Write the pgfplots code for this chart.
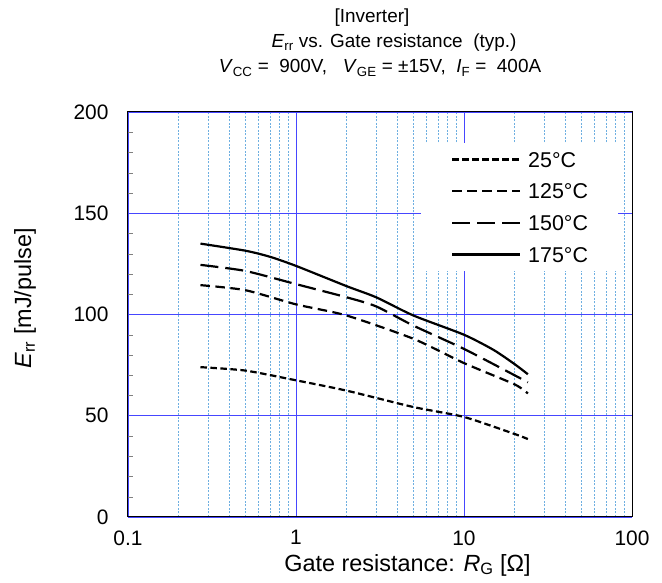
\documentclass[border=0pt]{standalone}
\usepackage{pgfplots}
\pgfplotsset{compat=1.18}
\usepackage{fontspec}
\setmainfont{Liberation Sans}
\definecolor{majgrid}{RGB}{70,70,255}
\definecolor{mingrid}{RGB}{110,175,225}
\begin{document}
\fontsize{19}{23}\selectfont
\begin{tikzpicture}
\begin{axis}[
  at={(0bp,0bp)}, anchor=south west,
  scale only axis, width=504bp, height=405bp,
  xmode=log, log basis x=10,
  xmin=0.1, xmax=100, ymin=0, ymax=200,
  xtick={0.1,1,10,100}, xticklabels={0.1,1,10,100},
  minor xtick={0.2,0.3,0.4,0.5,0.6,0.7,0.8,0.9,2,3,4,5,6,7,8,9,20,30,40,50,60,70,80,90},
  ytick={0,50,100,150,200},
  minor ytick={10,20,30,40,60,70,80,90,110,120,130,140,160,170,180,190},
  ytick pos=left, xtick pos=bottom,
  tick align=inside,
  major tick length=0bp, minor tick length=5bp,
  minor x tick style={draw=none},
  xmajorgrids, ymajorgrids, xminorgrids,
  major grid style={majgrid, line width=0.8bp},
  minor grid style={mingrid, line width=0.8bp, dash pattern=on 2bp off 1.5bp},
  axis line style={black, line width=1bp},
  /pgf/number format/assume math mode=true,
  tick label style={font=\fontsize{21}{25}\selectfont},
  yticklabel style={xshift=-13bp},
  xticklabel style={yshift=-7bp},
  xlabel={Gate resistance: \textit{R}\textsubscript{G} [Ω]},
  ylabel={\textit{E}\textsubscript{rr} [mJ/pulse]},
  label style={font=\fontsize{23.5}{27}\selectfont},
  xlabel style={at={(axis description cs:0.5546,0)}, anchor=center, yshift=-48bp},
  ylabel style={at={(axis description cs:-0.2043,0.54)}, anchor=center, rotate=0},
  legend style={at={(axis description cs:0.581,0.9235)}, anchor=north west,
    draw=none, fill=white, font=\fontsize{21.5}{25}\selectfont,
    nodes={inner sep=0bp, text height=15.5bp, text depth=0bp},
    inner xsep=30bp, inner ysep=8.5bp, row sep=16.2bp},
  legend cell align=left,
  legend image code/.code={\draw[#1] (0bp,0bp) -- (68bp,0bp); \path (75bp,0bp);},
  every axis plot/.append style={black, line width=2.2bp, line join=round, smooth, tension=0.4},
  clip=false,
]
\addplot[dash pattern=on 6.5bp off 3.5bp] coordinates {
 (0.27,74) (0.5,72.3) (1,67.5) (2,62.4) (5,54.3) (10,49.4) (20,41) (24,38.5)};
\addlegendentry{25°C}
\addplot[dash pattern=on 9.5bp off 5.5bp] coordinates {
 (0.27,114.5) (0.5,112) (1,105) (2,99.5) (5,88) (10,76) (20,65.5) (24,61)};
\addlegendentry{125°C}
\addplot[dash pattern=on 18bp off 7bp] coordinates {
 (0.27,124.5) (0.5,121.5) (1,115) (2,108.5) (3,104) (5,94.5) (10,83) (20,70) (24,66.5)};
\addlegendentry{150°C}
\addplot[solid] coordinates {
 (0.27,135) (0.5,131.5) (0.7,128.5) (1,124) (2,114) (3,108.5) (5,99.5) (10,90) (15,82.5) (20,75.5) (24,70.5)};
\addlegendentry{175°C}
\end{axis}
\node at (244bp,499bp) {[Inverter]};
\node at (266bp,474bp) {\textit{E}\textsubscript{rr} vs. Gate resistance\ \ (typ.)};
\node at (252bp,449bp) {\textit{V}\textsubscript{CC} =\ \ 900V,\ \ \ \textit{V}\textsubscript{GE} = ±15V,\ \ \textit{I}\textsubscript{F} =\ \ 400A};
\useasboundingbox (-128bp,-65bp) rectangle (534bp,517bp);
\end{tikzpicture}
\end{document}
